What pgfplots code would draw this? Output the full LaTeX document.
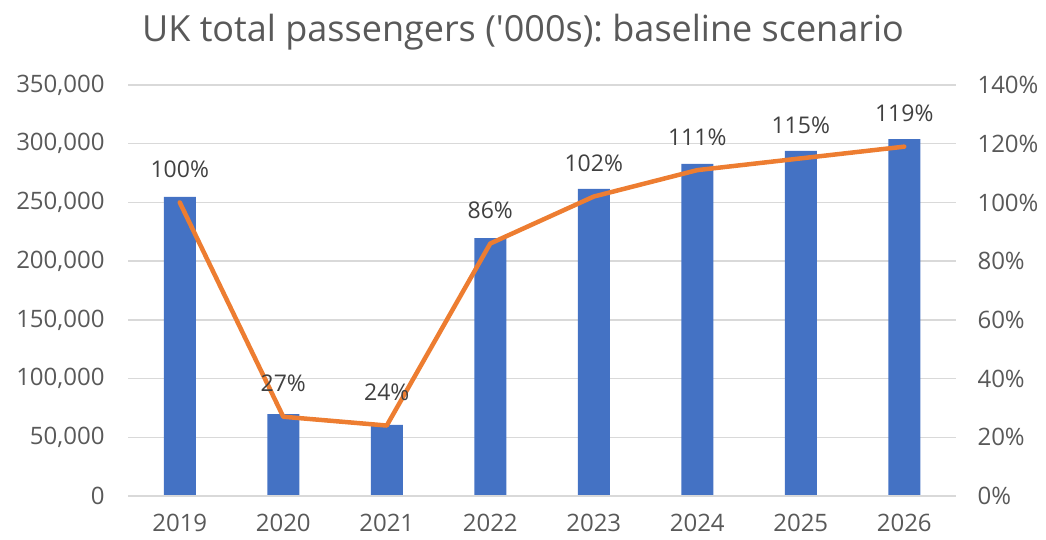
\documentclass[border=0pt]{standalone}
\usepackage{pgfplots}
\pgfplotsset{compat=1.18}
\usepackage{fontspec}
\setmainfont{Open Sans}
\frenchspacing
\definecolor{barblue}{HTML}{4472C4}
\definecolor{lineorange}{HTML}{ED7D31}
\definecolor{gridgray}{HTML}{D9D9D9}
\definecolor{txtgray}{HTML}{595959}
\definecolor{lblgray}{HTML}{404040}
\begin{document}
\begin{tikzpicture}
\pgfplotsset{
  base/.style={
    scale only axis, width=828bp, height=411bp,
    at={(128bp,44bp)}, anchor=south west,
    xmin=-0.5, xmax=7.5,
    xtick={0,...,7},
    major tick length=0pt,
    tick style={draw=none},
    /pgf/number format/assume math mode=true,
    tick label style={font=\fontsize{24bp}{28bp}\selectfont, text=txtgray},
  }
}
\begin{axis}[base,
  ymin=0, ymax=350000, ytick={0,50000,...,350000},
  scaled y ticks=false,
  /pgf/number format/fixed,
  /pgf/number format/1000 sep={,},
  ymajorgrids, grid style={gridgray, line width=1.5bp},
  axis line style={draw=none},
  xticklabels={2019,2020,2021,2022,2023,2024,2025,2026},
  xticklabel style={yshift=-15bp},
  yticklabel style={xshift=-20bp},
  clip=false,
]
\addplot[ybar, bar width=32bp, fill=barblue, draw=none] coordinates {
 (0,254700) (1,69800) (2,60600) (3,219700) (4,261500) (5,282800) (6,293900) (7,304000)};
\draw[gridgray, line width=1.5bp] (axis cs:-0.5,0) -- (axis cs:7.5,0);
\end{axis}
\begin{axis}[base,
  ymin=0, ymax=140, ytick={0,20,...,140},
  axis y line*=right, axis x line=none,
  axis line style={draw=none},
  yticklabel={\pgfmathprintnumber{\tick}\%},
  yticklabel style={xshift=18bp},
  clip=false,
]
\addplot[lineorange, line width=4.5bp, line join=round, line cap=round,
  nodes near coords={\pgfmathprintnumber{\pgfplotspointmeta}\%},
  nodes near coords style={font=\fontsize{23bp}{27bp}\selectfont, text=lblgray, anchor=south, yshift=19bp},
  point meta=y] coordinates {
 (0,100) (1,27) (2,24) (3,86) (4,102) (5,111) (6,115) (7,119)};
\end{axis}
\node[text=txtgray, font=\fontsize{36bp}{40bp}\selectfont] at (523bp,508bp) {UK total passengers (\textquotesingle 000s): baseline scenario};
\pgfresetboundingbox
\path[use as bounding box] (0,0) rectangle (1046bp,540bp);
\end{tikzpicture}
\end{document}
